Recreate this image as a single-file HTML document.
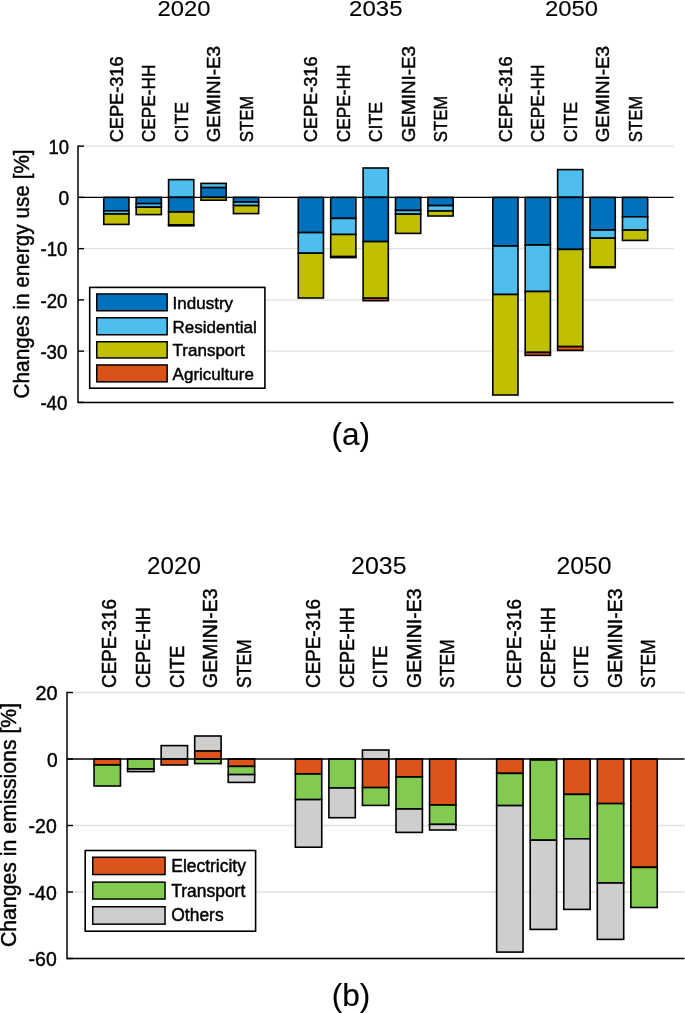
<!DOCTYPE html>
<html><head><meta charset="utf-8"><title>Energy use and emissions changes</title>
<style>
html,body{margin:0;padding:0;background:#fff;}
body{width:685px;height:1013px;overflow:hidden;}
svg{display:block;position:absolute;left:0;top:0;font-family:"Liberation Sans", sans-serif;}
svg.t{filter:grayscale(1);}
svg.t text{stroke:#000;stroke-width:0.45px;}
text{fill:#000;}
</style></head><body>
<svg width="685" height="1013" viewBox="0 0 685 1013">
<line x1="78" y1="146.15" x2="673.6" y2="146.15" stroke="#E0E0E0" stroke-width="1.3"/>
<line x1="78" y1="248.65" x2="673.6" y2="248.65" stroke="#E0E0E0" stroke-width="1.3"/>
<line x1="78" y1="299.9" x2="673.6" y2="299.9" stroke="#E0E0E0" stroke-width="1.3"/>
<line x1="78" y1="351.15" x2="673.6" y2="351.15" stroke="#E0E0E0" stroke-width="1.3"/>
<line x1="78" y1="402.4" x2="673.6" y2="402.4" stroke="#E0E0E0" stroke-width="1.3"/>
<rect x="103.75" y="197.4" width="25.2" height="13.4" fill="#0072BD" stroke="#000" stroke-width="1.6"/>
<rect x="103.75" y="210.8" width="25.2" height="3.2" fill="#4DBEEE" stroke="#000" stroke-width="1.6"/>
<rect x="103.75" y="214" width="25.2" height="10.4" fill="#C0BF00" stroke="#000" stroke-width="1.6"/>
<rect x="136.17" y="197.4" width="25.2" height="6.2" fill="#0072BD" stroke="#000" stroke-width="1.6"/>
<rect x="136.17" y="203.6" width="25.2" height="3.6" fill="#4DBEEE" stroke="#000" stroke-width="1.6"/>
<rect x="136.17" y="207.2" width="25.2" height="7.4" fill="#C0BF00" stroke="#000" stroke-width="1.6"/>
<rect x="168.59" y="179.6" width="25.2" height="17.8" fill="#4DBEEE" stroke="#000" stroke-width="1.6"/>
<rect x="168.59" y="197.4" width="25.2" height="14.6" fill="#0072BD" stroke="#000" stroke-width="1.6"/>
<rect x="168.59" y="212" width="25.2" height="12.8" fill="#C0BF00" stroke="#000" stroke-width="1.6"/>
<rect x="168.59" y="224.8" width="25.2" height="1" fill="#D95319" stroke="#000" stroke-width="1.6"/>
<rect x="201.01" y="183.4" width="25.2" height="4.2" fill="#4DBEEE" stroke="#000" stroke-width="1.6"/>
<rect x="201.01" y="187.6" width="25.2" height="9.8" fill="#0072BD" stroke="#000" stroke-width="1.6"/>
<rect x="201.01" y="197.4" width="25.2" height="2.8" fill="#C0BF00" stroke="#000" stroke-width="1.6"/>
<rect x="233.43" y="197.4" width="25.2" height="4.6" fill="#0072BD" stroke="#000" stroke-width="1.6"/>
<rect x="233.43" y="202" width="25.2" height="3.6" fill="#4DBEEE" stroke="#000" stroke-width="1.6"/>
<rect x="233.43" y="205.6" width="25.2" height="8" fill="#C0BF00" stroke="#000" stroke-width="1.6"/>
<rect x="298.27" y="197.4" width="25.2" height="35.2" fill="#0072BD" stroke="#000" stroke-width="1.6"/>
<rect x="298.27" y="232.6" width="25.2" height="20.6" fill="#4DBEEE" stroke="#000" stroke-width="1.6"/>
<rect x="298.27" y="253.2" width="25.2" height="44.8" fill="#C0BF00" stroke="#000" stroke-width="1.6"/>
<rect x="330.69" y="197.4" width="25.2" height="21" fill="#0072BD" stroke="#000" stroke-width="1.6"/>
<rect x="330.69" y="218.4" width="25.2" height="16.1" fill="#4DBEEE" stroke="#000" stroke-width="1.6"/>
<rect x="330.69" y="234.5" width="25.2" height="22.1" fill="#C0BF00" stroke="#000" stroke-width="1.6"/>
<rect x="330.69" y="256.6" width="25.2" height="1" fill="#D95319" stroke="#000" stroke-width="1.6"/>
<rect x="363.11" y="168" width="25.2" height="29.4" fill="#4DBEEE" stroke="#000" stroke-width="1.6"/>
<rect x="363.11" y="197.4" width="25.2" height="44.2" fill="#0072BD" stroke="#000" stroke-width="1.6"/>
<rect x="363.11" y="241.6" width="25.2" height="56.6" fill="#C0BF00" stroke="#000" stroke-width="1.6"/>
<rect x="363.11" y="298.2" width="25.2" height="2.5" fill="#D95319" stroke="#000" stroke-width="1.6"/>
<rect x="395.53" y="197.4" width="25.2" height="13" fill="#0072BD" stroke="#000" stroke-width="1.6"/>
<rect x="395.53" y="210.4" width="25.2" height="3.8" fill="#4DBEEE" stroke="#000" stroke-width="1.6"/>
<rect x="395.53" y="214.2" width="25.2" height="19.2" fill="#C0BF00" stroke="#000" stroke-width="1.6"/>
<rect x="427.95" y="197.4" width="25.2" height="8.2" fill="#0072BD" stroke="#000" stroke-width="1.6"/>
<rect x="427.95" y="205.6" width="25.2" height="5.4" fill="#4DBEEE" stroke="#000" stroke-width="1.6"/>
<rect x="427.95" y="211" width="25.2" height="5" fill="#C0BF00" stroke="#000" stroke-width="1.6"/>
<rect x="492.79" y="197.4" width="25.2" height="48.6" fill="#0072BD" stroke="#000" stroke-width="1.6"/>
<rect x="492.79" y="246" width="25.2" height="48.5" fill="#4DBEEE" stroke="#000" stroke-width="1.6"/>
<rect x="492.79" y="294.5" width="25.2" height="100.5" fill="#C0BF00" stroke="#000" stroke-width="1.6"/>
<rect x="525.21" y="197.4" width="25.2" height="47.6" fill="#0072BD" stroke="#000" stroke-width="1.6"/>
<rect x="525.21" y="245" width="25.2" height="46.5" fill="#4DBEEE" stroke="#000" stroke-width="1.6"/>
<rect x="525.21" y="291.5" width="25.2" height="60.9" fill="#C0BF00" stroke="#000" stroke-width="1.6"/>
<rect x="525.21" y="352.4" width="25.2" height="3" fill="#D95319" stroke="#000" stroke-width="1.6"/>
<rect x="557.63" y="169.6" width="25.2" height="27.8" fill="#4DBEEE" stroke="#000" stroke-width="1.6"/>
<rect x="557.63" y="197.4" width="25.2" height="52" fill="#0072BD" stroke="#000" stroke-width="1.6"/>
<rect x="557.63" y="249.4" width="25.2" height="97.2" fill="#C0BF00" stroke="#000" stroke-width="1.6"/>
<rect x="557.63" y="346.6" width="25.2" height="3.8" fill="#D95319" stroke="#000" stroke-width="1.6"/>
<rect x="590.05" y="197.4" width="25.2" height="32.6" fill="#0072BD" stroke="#000" stroke-width="1.6"/>
<rect x="590.05" y="230" width="25.2" height="8.2" fill="#4DBEEE" stroke="#000" stroke-width="1.6"/>
<rect x="590.05" y="238.2" width="25.2" height="28.8" fill="#C0BF00" stroke="#000" stroke-width="1.6"/>
<rect x="590.05" y="267" width="25.2" height="0.7" fill="#D95319" stroke="#000" stroke-width="1.6"/>
<rect x="622.47" y="197.4" width="25.2" height="19.4" fill="#0072BD" stroke="#000" stroke-width="1.6"/>
<rect x="622.47" y="216.8" width="25.2" height="13.3" fill="#4DBEEE" stroke="#000" stroke-width="1.6"/>
<rect x="622.47" y="230.1" width="25.2" height="10.3" fill="#C0BF00" stroke="#000" stroke-width="1.6"/>
<line x1="78" y1="197.4" x2="673.6" y2="197.4" stroke="#000" stroke-width="1.4"/>
<line x1="78" y1="145.45" x2="78" y2="403.1" stroke="#000" stroke-width="1.5"/>
<line x1="78" y1="402.4" x2="673.6" y2="402.4" stroke="#000" stroke-width="1.5"/>
<line x1="78" y1="146.15" x2="84" y2="146.15" stroke="#000" stroke-width="1.4"/>
<line x1="78" y1="197.4" x2="84" y2="197.4" stroke="#000" stroke-width="1.4"/>
<line x1="78" y1="248.65" x2="84" y2="248.65" stroke="#000" stroke-width="1.4"/>
<line x1="78" y1="299.9" x2="84" y2="299.9" stroke="#000" stroke-width="1.4"/>
<line x1="78" y1="351.15" x2="84" y2="351.15" stroke="#000" stroke-width="1.4"/>
<line x1="78" y1="402.4" x2="84" y2="402.4" stroke="#000" stroke-width="1.4"/>
<line x1="67" y1="692.5" x2="684.5" y2="692.5" stroke="#E0E0E0" stroke-width="1.3"/>
<line x1="67" y1="825.5" x2="684.5" y2="825.5" stroke="#E0E0E0" stroke-width="1.3"/>
<line x1="67" y1="892" x2="684.5" y2="892" stroke="#E0E0E0" stroke-width="1.3"/>
<line x1="67" y1="958.5" x2="684.5" y2="958.5" stroke="#E0E0E0" stroke-width="1.3"/>
<rect x="94.05" y="759" width="26.4" height="6" fill="#DC5419" stroke="#000" stroke-width="1.6"/>
<rect x="94.05" y="765" width="26.4" height="21" fill="#82CB50" stroke="#000" stroke-width="1.6"/>
<rect x="127.6" y="759" width="26.4" height="10" fill="#82CB50" stroke="#000" stroke-width="1.6"/>
<rect x="127.6" y="769" width="26.4" height="2.6" fill="#CECECE" stroke="#000" stroke-width="1.6"/>
<rect x="161.15" y="745.6" width="26.4" height="13.4" fill="#CECECE" stroke="#000" stroke-width="1.6"/>
<rect x="161.15" y="759" width="26.4" height="6" fill="#DC5419" stroke="#000" stroke-width="1.6"/>
<rect x="194.7" y="736" width="26.4" height="15" fill="#CECECE" stroke="#000" stroke-width="1.6"/>
<rect x="194.7" y="751" width="26.4" height="8" fill="#DC5419" stroke="#000" stroke-width="1.6"/>
<rect x="194.7" y="759" width="26.4" height="4.6" fill="#82CB50" stroke="#000" stroke-width="1.6"/>
<rect x="228.25" y="759" width="26.4" height="7.4" fill="#DC5419" stroke="#000" stroke-width="1.6"/>
<rect x="228.25" y="766.4" width="26.4" height="8.2" fill="#82CB50" stroke="#000" stroke-width="1.6"/>
<rect x="228.25" y="774.6" width="26.4" height="7.8" fill="#CECECE" stroke="#000" stroke-width="1.6"/>
<rect x="295.35" y="759" width="26.4" height="15" fill="#DC5419" stroke="#000" stroke-width="1.6"/>
<rect x="295.35" y="774" width="26.4" height="25.6" fill="#82CB50" stroke="#000" stroke-width="1.6"/>
<rect x="295.35" y="799.6" width="26.4" height="47.6" fill="#CECECE" stroke="#000" stroke-width="1.6"/>
<rect x="328.9" y="759" width="26.4" height="29" fill="#82CB50" stroke="#000" stroke-width="1.6"/>
<rect x="328.9" y="788" width="26.4" height="29.7" fill="#CECECE" stroke="#000" stroke-width="1.6"/>
<rect x="362.45" y="750" width="26.4" height="9" fill="#CECECE" stroke="#000" stroke-width="1.6"/>
<rect x="362.45" y="759" width="26.4" height="28.6" fill="#DC5419" stroke="#000" stroke-width="1.6"/>
<rect x="362.45" y="787.6" width="26.4" height="17.8" fill="#82CB50" stroke="#000" stroke-width="1.6"/>
<rect x="396" y="759" width="26.4" height="18" fill="#DC5419" stroke="#000" stroke-width="1.6"/>
<rect x="396" y="777" width="26.4" height="32" fill="#82CB50" stroke="#000" stroke-width="1.6"/>
<rect x="396" y="809" width="26.4" height="23.4" fill="#CECECE" stroke="#000" stroke-width="1.6"/>
<rect x="429.55" y="759" width="26.4" height="46" fill="#DC5419" stroke="#000" stroke-width="1.6"/>
<rect x="429.55" y="805" width="26.4" height="19.4" fill="#82CB50" stroke="#000" stroke-width="1.6"/>
<rect x="429.55" y="824.4" width="26.4" height="5.6" fill="#CECECE" stroke="#000" stroke-width="1.6"/>
<rect x="496.65" y="759" width="26.4" height="14.4" fill="#DC5419" stroke="#000" stroke-width="1.6"/>
<rect x="496.65" y="773.4" width="26.4" height="32.2" fill="#82CB50" stroke="#000" stroke-width="1.6"/>
<rect x="496.65" y="805.6" width="26.4" height="146.5" fill="#CECECE" stroke="#000" stroke-width="1.6"/>
<rect x="530.2" y="759" width="26.4" height="1" fill="#DC5419" stroke="#000" stroke-width="1.6"/>
<rect x="530.2" y="760" width="26.4" height="80.2" fill="#82CB50" stroke="#000" stroke-width="1.6"/>
<rect x="530.2" y="840.2" width="26.4" height="89.2" fill="#CECECE" stroke="#000" stroke-width="1.6"/>
<rect x="563.75" y="759" width="26.4" height="35.4" fill="#DC5419" stroke="#000" stroke-width="1.6"/>
<rect x="563.75" y="794.4" width="26.4" height="44.4" fill="#82CB50" stroke="#000" stroke-width="1.6"/>
<rect x="563.75" y="838.8" width="26.4" height="70.6" fill="#CECECE" stroke="#000" stroke-width="1.6"/>
<rect x="597.3" y="759" width="26.4" height="44.6" fill="#DC5419" stroke="#000" stroke-width="1.6"/>
<rect x="597.3" y="803.6" width="26.4" height="79.4" fill="#82CB50" stroke="#000" stroke-width="1.6"/>
<rect x="597.3" y="883" width="26.4" height="56.4" fill="#CECECE" stroke="#000" stroke-width="1.6"/>
<rect x="630.85" y="759" width="26.4" height="108.2" fill="#DC5419" stroke="#000" stroke-width="1.6"/>
<rect x="630.85" y="867.4" width="26.4" height="40.1" fill="#82CB50" stroke="#000" stroke-width="1.6"/>
<line x1="67" y1="759" x2="684.5" y2="759" stroke="#000" stroke-width="1.4"/>
<line x1="67" y1="691.8" x2="67" y2="959.2" stroke="#000" stroke-width="1.5"/>
<line x1="67" y1="958.5" x2="684.5" y2="958.5" stroke="#000" stroke-width="1.5"/>
<line x1="67" y1="692.5" x2="73" y2="692.5" stroke="#000" stroke-width="1.4"/>
<line x1="67" y1="759" x2="73" y2="759" stroke="#000" stroke-width="1.4"/>
<line x1="67" y1="825.5" x2="73" y2="825.5" stroke="#000" stroke-width="1.4"/>
<line x1="67" y1="892" x2="73" y2="892" stroke="#000" stroke-width="1.4"/>
<line x1="67" y1="958.5" x2="73" y2="958.5" stroke="#000" stroke-width="1.4"/>
<rect x="89.7" y="287.4" width="175.2" height="100.8" fill="#fff" stroke="#000" stroke-width="1.6"/>
<rect x="96.75" y="293.95" width="70.4" height="16.8" fill="#0072BD" stroke="#000" stroke-width="1.5"/>
<rect x="96.75" y="317.75" width="70.4" height="17" fill="#4DBEEE" stroke="#000" stroke-width="1.5"/>
<rect x="96.75" y="341.75" width="70.4" height="16.2" fill="#C0BF00" stroke="#000" stroke-width="1.5"/>
<rect x="96.75" y="364.95" width="70.4" height="16.9" fill="#D95319" stroke="#000" stroke-width="1.5"/>
<rect x="85.2" y="850.5" width="170.4" height="80.7" fill="#fff" stroke="#000" stroke-width="1.6"/>
<rect x="92.75" y="857.25" width="72.3" height="17.3" fill="#DC5419" stroke="#000" stroke-width="1.5"/>
<rect x="92.75" y="882.15" width="72.3" height="16.9" fill="#82CB50" stroke="#000" stroke-width="1.5"/>
<rect x="92.75" y="906.75" width="72.3" height="17.4" fill="#CECECE" stroke="#000" stroke-width="1.5"/>
</svg>
<svg class="t" width="685" height="1013" viewBox="0 0 685 1013">
<text x="48.5" y="153.88" font-size="20.2" textLength="20.51" lengthAdjust="spacingAndGlyphs">10</text>
<text x="58.4" y="205.13" font-size="20.2" textLength="10.7" lengthAdjust="spacingAndGlyphs">0</text>
<text x="40.5" y="256.38" font-size="20.2" textLength="26.91" lengthAdjust="spacingAndGlyphs">-10</text>
<text x="40.5" y="307.63" font-size="20.2" textLength="26.91" lengthAdjust="spacingAndGlyphs">-20</text>
<text x="40.4" y="358.88" font-size="20.2" textLength="27.01" lengthAdjust="spacingAndGlyphs">-30</text>
<text x="40.4" y="410.13" font-size="20.2" textLength="27.01" lengthAdjust="spacingAndGlyphs">-40</text>
<text x="35.5" y="700.33" font-size="20.2" textLength="22.11" lengthAdjust="spacingAndGlyphs">20</text>
<text x="46.9" y="766.83" font-size="20.2" textLength="10.7" lengthAdjust="spacingAndGlyphs">0</text>
<text x="28.6" y="833.33" font-size="20.2" textLength="28.11" lengthAdjust="spacingAndGlyphs">-20</text>
<text x="28.6" y="899.83" font-size="20.2" textLength="28.11" lengthAdjust="spacingAndGlyphs">-40</text>
<text x="28.6" y="966.33" font-size="20.2" textLength="28.11" lengthAdjust="spacingAndGlyphs">-60</text>
<text x="157.6" y="15.9" font-size="22.8" style="stroke-width:0.12px" textLength="52.99" lengthAdjust="spacingAndGlyphs">2020</text>
<text x="349.1" y="15.9" font-size="22.8" style="stroke-width:0.12px" textLength="53.39" lengthAdjust="spacingAndGlyphs">2035</text>
<text x="545.1" y="15.9" font-size="22.8" style="stroke-width:0.12px" textLength="52.99" lengthAdjust="spacingAndGlyphs">2050</text>
<text x="147.1" y="573.9" font-size="23.6" style="stroke-width:0.12px" textLength="53.79" lengthAdjust="spacingAndGlyphs">2020</text>
<text x="351.1" y="573.9" font-size="23.6" style="stroke-width:0.12px" textLength="55.39" lengthAdjust="spacingAndGlyphs">2035</text>
<text x="556.4" y="573.9" font-size="23.6" style="stroke-width:0.12px" textLength="55.09" lengthAdjust="spacingAndGlyphs">2050</text>
<text transform="translate(122.95,142.3) scale(1,1) rotate(-90)" font-size="18.5" textLength="85.89" lengthAdjust="spacingAndGlyphs">CEPE-316</text>
<text transform="translate(155.37,142.3) scale(1,1) rotate(-90)" font-size="18.5" textLength="77.89" lengthAdjust="spacingAndGlyphs">CEPE-HH</text>
<text transform="translate(187.79,142.3) scale(1,1) rotate(-90)" font-size="18.5" textLength="40.3" lengthAdjust="spacingAndGlyphs">CITE</text>
<text transform="translate(220.21,142.3) scale(1,1) rotate(-90)" font-size="18.5" textLength="96.4" lengthAdjust="spacingAndGlyphs">GEMINI-E3</text>
<text transform="translate(252.63,142.3) scale(1,1) rotate(-90)" font-size="18.5" textLength="46.6" lengthAdjust="spacingAndGlyphs">STEM</text>
<text transform="translate(317.47,142.3) scale(1,1) rotate(-90)" font-size="18.5" textLength="85.89" lengthAdjust="spacingAndGlyphs">CEPE-316</text>
<text transform="translate(349.89,142.3) scale(1,1) rotate(-90)" font-size="18.5" textLength="77.89" lengthAdjust="spacingAndGlyphs">CEPE-HH</text>
<text transform="translate(382.31,142.3) scale(1,1) rotate(-90)" font-size="18.5" textLength="40.3" lengthAdjust="spacingAndGlyphs">CITE</text>
<text transform="translate(414.73,142.3) scale(1,1) rotate(-90)" font-size="18.5" textLength="96.4" lengthAdjust="spacingAndGlyphs">GEMINI-E3</text>
<text transform="translate(447.15,142.3) scale(1,1) rotate(-90)" font-size="18.5" textLength="46.6" lengthAdjust="spacingAndGlyphs">STEM</text>
<text transform="translate(511.99,142.3) scale(1,1) rotate(-90)" font-size="18.5" textLength="85.89" lengthAdjust="spacingAndGlyphs">CEPE-316</text>
<text transform="translate(544.41,142.3) scale(1,1) rotate(-90)" font-size="18.5" textLength="77.89" lengthAdjust="spacingAndGlyphs">CEPE-HH</text>
<text transform="translate(576.83,142.3) scale(1,1) rotate(-90)" font-size="18.5" textLength="40.3" lengthAdjust="spacingAndGlyphs">CITE</text>
<text transform="translate(609.25,142.3) scale(1,1) rotate(-90)" font-size="18.5" textLength="96.4" lengthAdjust="spacingAndGlyphs">GEMINI-E3</text>
<text transform="translate(641.67,142.3) scale(1,1) rotate(-90)" font-size="18.5" textLength="46.6" lengthAdjust="spacingAndGlyphs">STEM</text>
<text transform="translate(116.2,687.9) scale(1.05,1) rotate(-90)" font-size="19.2" textLength="88.89" lengthAdjust="spacingAndGlyphs">CEPE-316</text>
<text transform="translate(149.7,687.9) scale(1.05,1) rotate(-90)" font-size="19.2" textLength="80.59" lengthAdjust="spacingAndGlyphs">CEPE-HH</text>
<text transform="translate(183.6,687.9) scale(1.05,1) rotate(-90)" font-size="19.2" textLength="42.3" lengthAdjust="spacingAndGlyphs">CITE</text>
<text transform="translate(217.2,687.9) scale(1.05,1) rotate(-90)" font-size="19.2" textLength="99.4" lengthAdjust="spacingAndGlyphs">GEMINI-E3</text>
<text transform="translate(250.7,687.9) scale(1.05,1) rotate(-90)" font-size="19.2" textLength="48.6" lengthAdjust="spacingAndGlyphs">STEM</text>
<text transform="translate(320,687.9) scale(1.05,1) rotate(-90)" font-size="19.2" textLength="88.89" lengthAdjust="spacingAndGlyphs">CEPE-316</text>
<text transform="translate(353.6,687.9) scale(1.05,1) rotate(-90)" font-size="19.2" textLength="80.59" lengthAdjust="spacingAndGlyphs">CEPE-HH</text>
<text transform="translate(387.1,687.9) scale(1.05,1) rotate(-90)" font-size="19.2" textLength="42.3" lengthAdjust="spacingAndGlyphs">CITE</text>
<text transform="translate(420.6,687.9) scale(1.05,1) rotate(-90)" font-size="19.2" textLength="99.4" lengthAdjust="spacingAndGlyphs">GEMINI-E3</text>
<text transform="translate(454.4,687.9) scale(1.05,1) rotate(-90)" font-size="19.2" textLength="48.6" lengthAdjust="spacingAndGlyphs">STEM</text>
<text transform="translate(520.8,687.9) scale(1.05,1) rotate(-90)" font-size="19.2" textLength="88.89" lengthAdjust="spacingAndGlyphs">CEPE-316</text>
<text transform="translate(555,687.9) scale(1.05,1) rotate(-90)" font-size="19.2" textLength="80.59" lengthAdjust="spacingAndGlyphs">CEPE-HH</text>
<text transform="translate(588.2,687.9) scale(1.05,1) rotate(-90)" font-size="19.2" textLength="42.3" lengthAdjust="spacingAndGlyphs">CITE</text>
<text transform="translate(622.1,687.9) scale(1.05,1) rotate(-90)" font-size="19.2" textLength="99.4" lengthAdjust="spacingAndGlyphs">GEMINI-E3</text>
<text transform="translate(655.2,687.9) scale(1.05,1) rotate(-90)" font-size="19.2" textLength="48.6" lengthAdjust="spacingAndGlyphs">STEM</text>
<text transform="translate(28.5,398.4) rotate(-90)" font-size="21.6" textLength="249.01" lengthAdjust="spacingAndGlyphs">Changes in energy use [%]</text>
<text transform="translate(16.3,947.1) rotate(-90)" font-size="21.6" textLength="244.21" lengthAdjust="spacingAndGlyphs">Changes in emissions [%]</text>
<text x="172.6" y="308.95" font-size="17.0">Industry</text>
<text x="172.6" y="332.85" font-size="17.0">Residential</text>
<text x="172.6" y="356.45" font-size="17.0">Transport</text>
<text x="172.6" y="380" font-size="17.0">Agriculture</text>
<text x="171.3" y="871.8" font-size="17.45">Electricity</text>
<text x="171.3" y="896.5" font-size="17.45">Transport</text>
<text x="171.3" y="921.35" font-size="17.45">Others</text>
<text x="331.4" y="445.1" font-size="31.5" style="stroke-width:0.15px">(a)</text>
<text x="331.8" y="1005.7" font-size="31.5" style="stroke-width:0.15px">(b)</text>
</svg>
</body></html>
